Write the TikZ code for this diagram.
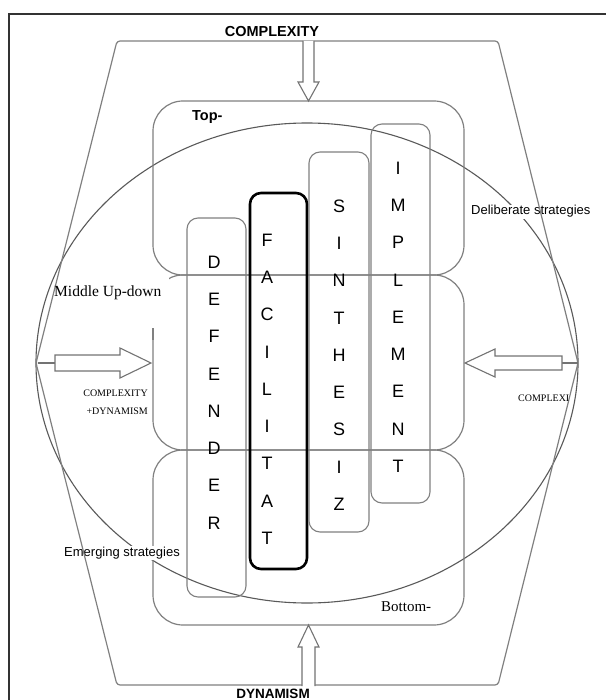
\documentclass[tikz,border=0pt]{standalone}
\usepackage{fontspec}
\setmainfont{Liberation Sans}
\newfontfamily\seriffont{Liberation Serif}
\usetikzlibrary{positioning}

\begin{document}
\begin{tikzpicture}[x=1pt,y=-1pt,
  bigbox/.style={draw=black!50, line width=1.2pt, rounded corners=30pt},
  letterbox/.style={draw=black!50, line width=1.1pt, rounded corners=11pt},
  letter/.style={font=\fontsize{18}{18}\selectfont, inner sep=0pt},
  blockarrow/.style={draw=black!55, line width=1.1pt, fill=white},
  lbl/.style={inner sep=1pt}]
\useasboundingbox (0,0) rectangle (605,700);
% Frame
\draw[line width=1.5pt, black!80] (9,14) rectangle (640,740);
% Strategy ellipse
\draw[line width=1.1pt, black!65] (307,363) ellipse [x radius=271pt, y radius=240pt];
% Top / middle / bottom boxes
\draw[bigbox] (153,101) rectangle (464,275);
\draw[bigbox] (153,275) rectangle (464,450);
\draw[bigbox] (153,450) rectangle (464,625);
\fill[white] (140,278) rectangle (169,328);
% Strategy labels on the ellipse
\node[lbl, fill=white, font=\fontsize{13}{13}\selectfont, anchor=base west] (delib) at (470,215) {Deliberate strategies};
\node[lbl, fill=white, font=\fontsize{13}{13}\selectfont, anchor=base west] (emerg) at (63,556) {Emerging strategies};
% Letter columns
\draw[letterbox] (187,218) rectangle (246,597);
\draw[letterbox, line width=2.6pt, draw=black] (250,193) rectangle (307,569);
\draw[letterbox] (309,152) rectangle (369,532);
\draw[letterbox] (371,124) rectangle (430,503);
\foreach \c [count=\i] in {D,E,F,E,N,D,E,R}
  \node[letter] (def\i) at (214,{262+37.3*(\i-1)}) {\c};
\foreach \c [count=\i] in {F,A,C,I,L,I,T,A,T}
  \node[letter] (fac\i) at (267,{240+37.3*(\i-1)}) {\c};
\foreach \c [count=\i] in {S,I,N,T,H,E,S,I,Z}
  \node[letter] (sin\i) at (339,{206+37.3*(\i-1)}) {\c};
\foreach \c [count=\i] in {I,M,P,L,E,M,E,N,T}
  \node[letter] (imp\i) at (398,{168+37.3*(\i-1)}) {\c};
% Outer hexagon
\draw[line width=1.2pt, black!50, rounded corners=3pt]
  (117,41) -- (498,41) -- (578,363) -- (498,685) -- (117,685) -- (36,363) -- cycle;
% Pressure arrows
\draw[blockarrow] (303,41) -- (303,82) -- (298,82) -- (308.5,101) -- (319,82) -- (314,82) -- (314,41);
\draw[blockarrow] (302,686) -- (302,647) -- (298,647) -- (308.5,625) -- (319,647) -- (315,647) -- (315,686);
\draw[black!55, line width=1.1pt] (38,363) -- (55,363) (562,363) -- (578,363);
\draw[blockarrow] (55,355) -- (120,355) -- (120,348) -- (151,363) -- (120,378) -- (120,371) -- (55,371) -- cycle;
\draw[blockarrow] (562,356) -- (495,356) -- (495,349) -- (465,363) -- (495,377) -- (495,370) -- (562,370) -- cycle;
\draw[black!50, line width=1.2pt] (153,328) -- (153,340);
% Labels
\node[lbl, font=\bfseries\fontsize{14.5}{14.5}\selectfont, anchor=base] (cplx) at (272,37) {COMPLEXITY};
\node[lbl, font=\bfseries\fontsize{13.5}{13.5}\selectfont, anchor=base] (dyn) at (273,698) {DYNAMISM};
\node[lbl, font=\bfseries\fontsize{14.5}{14.5}\selectfont, anchor=base west] (top) at (191,121) {Top-};
\node[lbl, font=\seriffont\fontsize{15.5}{15.5}\selectfont, anchor=base west] (mid) at (53,296) {Middle Up-down};
\node[lbl, font=\seriffont\fontsize{15}{15}\selectfont, anchor=base west] (bot) at (380,611) {Bottom-};
\node[lbl, font=\seriffont\fontsize{10}{10}\selectfont, anchor=base east] (cplxl) at (149,396) {COMPLEXITY};
\node[lbl, font=\seriffont\fontsize{10}{10}\selectfont, anchor=base east] (dynl) at (149,414) {+DYNAMISM};
\node[lbl, font=\seriffont\fontsize{10}{10}\selectfont, anchor=base west] (cplxr) at (517,401) {COMPLEXI};
\end{tikzpicture}
\end{document}
